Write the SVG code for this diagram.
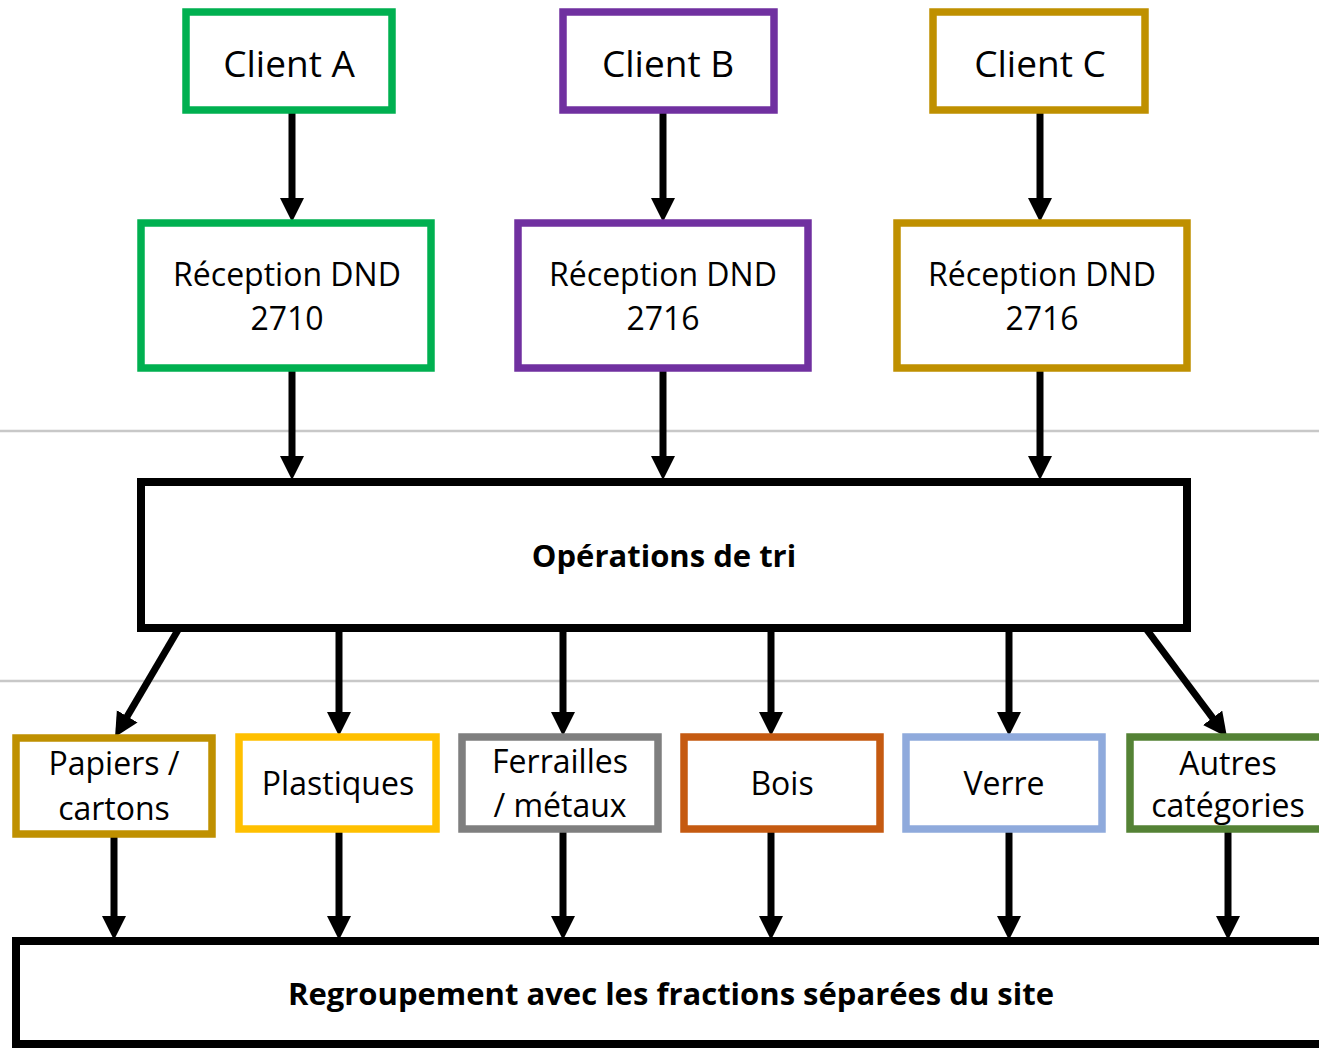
<svg xmlns="http://www.w3.org/2000/svg" width="1319" height="1048" viewBox="0 0 1319 1048">
<style>
.box{fill:#fff;stroke-width:7.5}
.main{fill:#fff;stroke:#000;stroke-width:8}
.t{font-family:"Open Sans","Liberation Sans",sans-serif;fill:#000;text-anchor:middle}
.c{font-size:37px}
.r{font-size:32px}
.b{font-size:31px;font-weight:bold}
.sep{stroke:#c8c8c8;stroke-width:2.5}
.arr{stroke:#000;stroke-width:7;fill:none;marker-end:url(#ah)}
</style>
<defs>
<marker id="ah" markerUnits="userSpaceOnUse" markerWidth="25" markerHeight="25" viewBox="0 0 25 25" refX="1" refY="12" orient="auto">
<path d="M0,0 L24,12 L0,24 z" fill="#000"/>
</marker>
</defs>
<rect width="1319" height="1048" fill="#fff"/>
<g id="separators">
<line class="sep" x1="0" y1="431" x2="1319" y2="431"/>
<line class="sep" x1="0" y1="681" x2="1319" y2="681"/>
</g>
<g id="connectors">
<line class="arr" x1="292" y1="112" x2="292" y2="199"/>
<line class="arr" x1="663" y1="112" x2="663" y2="199"/>
<line class="arr" x1="1040" y1="112" x2="1040" y2="199"/>
<line class="arr" x1="292" y1="370" x2="292" y2="457"/>
<line class="arr" x1="663" y1="370" x2="663" y2="457"/>
<line class="arr" x1="1040" y1="370" x2="1040" y2="457"/>
<line class="arr" x1="178" y1="630" x2="126.7" y2="717.2"/>
<line class="arr" x1="339" y1="630" x2="339" y2="713"/>
<line class="arr" x1="563" y1="630" x2="563" y2="713"/>
<line class="arr" x1="771" y1="630" x2="771" y2="713"/>
<line class="arr" x1="1009" y1="630" x2="1009" y2="713"/>
<line class="arr" x1="1147" y1="630" x2="1213.2" y2="718.6"/>
<line class="arr" x1="114" y1="834" x2="114" y2="917"/>
<line class="arr" x1="339" y1="832" x2="339" y2="917"/>
<line class="arr" x1="563" y1="832" x2="563" y2="917"/>
<line class="arr" x1="771" y1="832" x2="771" y2="917"/>
<line class="arr" x1="1009" y1="832" x2="1009" y2="917"/>
<line class="arr" x1="1228" y1="832" x2="1228" y2="917"/>
</g>
<g id="client-a"><rect class="box" x="186" y="12" width="206" height="98" stroke="#00b050"/><text class="t c" x="289" y="77">Client A</text></g>
<g id="client-b"><rect class="box" x="563" y="12" width="211" height="98" stroke="#7030a0"/><text class="t c" x="668" y="77">Client B</text></g>
<g id="client-c"><rect class="box" x="933" y="12" width="212" height="98" stroke="#bf9000"/><text class="t c" x="1040" y="77">Client C</text></g>
<g id="reception-a"><rect class="box" x="141" y="223" width="290" height="145" stroke="#00b050"/><text class="t r" x="287" y="286">Réception DND</text><text class="t r" x="287" y="330">2710</text></g>
<g id="reception-b"><rect class="box" x="518" y="223" width="290" height="145" stroke="#7030a0"/><text class="t r" x="663" y="286">Réception DND</text><text class="t r" x="663" y="330">2716</text></g>
<g id="reception-c"><rect class="box" x="897" y="223" width="290" height="145" stroke="#bf9000"/><text class="t r" x="1042" y="286">Réception DND</text><text class="t r" x="1042" y="330">2716</text></g>
<g id="operations"><rect class="main" x="141" y="482" width="1046" height="146"/><text class="t b" x="664" y="567">Opérations de tri</text></g>
<g id="papiers"><rect class="box" x="16" y="738" width="196" height="96" stroke="#bf9000"/><text class="t r" x="114" y="775">Papiers /</text><text class="t r" x="114" y="820">cartons</text></g>
<g id="plastiques"><rect class="box" x="239" y="737" width="197" height="92" stroke="#ffc000"/><text class="t r" x="338" y="795">Plastiques</text></g>
<g id="ferrailles"><rect class="box" x="462" y="737" width="196" height="92" stroke="#7f7f7f"/><text class="t r" x="560" y="773">Ferrailles</text><text class="t r" x="560" y="817">/ métaux</text></g>
<g id="bois"><rect class="box" x="684" y="737" width="196" height="92" stroke="#c55a11"/><text class="t r" x="782" y="795">Bois</text></g>
<g id="verre"><rect class="box" x="906" y="737" width="196" height="92" stroke="#8faadc"/><text class="t r" x="1004" y="795">Verre</text></g>
<g id="autres"><rect class="box" x="1130" y="737" width="210" height="92" stroke="#548235"/><text class="t r" x="1228" y="775">Autres</text><text class="t r" x="1228" y="817">catégories</text></g>
<g id="regroupement"><rect class="main" x="16" y="941" width="1320" height="103"/><text class="t b" x="671" y="1005">Regroupement avec les fractions séparées du site</text></g>
</svg>
